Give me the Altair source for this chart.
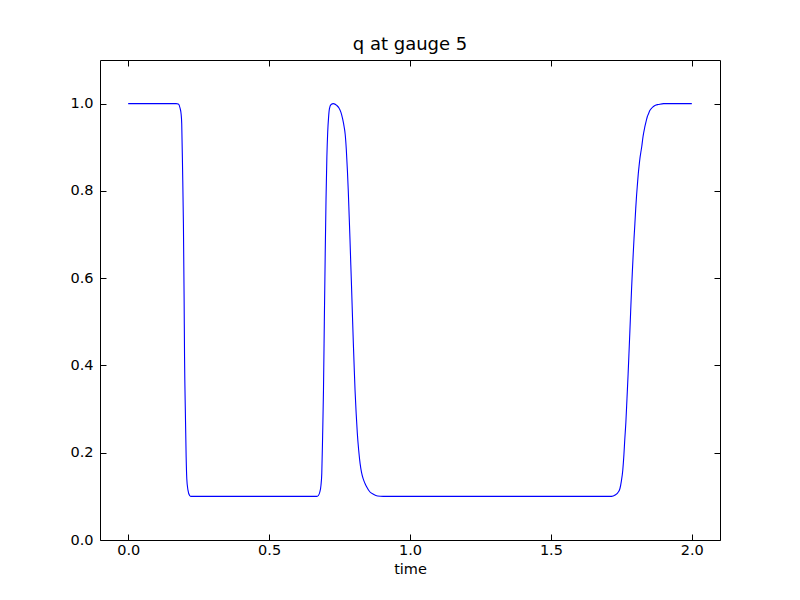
import altair as alt
import pandas as pd

time_vals = [0.0, 0.17, 0.178, 0.184, 0.188, 0.19, 0.193, 0.196, 0.1985, 0.2, 0.203, 0.2057,
             0.208, 0.212, 0.218, 0.222, 0.67, 0.675, 0.68, 0.684, 0.687, 0.690, 0.693, 0.696,
             0.699, 0.702, 0.705, 0.708, 0.711, 0.714, 0.72, 0.728, 0.74, 0.748, 0.755, 0.761,
             0.766, 0.770, 0.774, 0.778, 0.781, 0.784, 0.787, 0.790, 0.793, 0.796, 0.799,
             0.802, 0.805, 0.809, 0.813, 0.818, 0.823, 0.828, 0.834, 0.840, 0.846, 0.858,
             0.870, 0.885, 0.905, 1.715, 1.728, 1.737, 1.745, 1.750, 1.755, 1.759, 1.762,
             1.766, 1.770, 1.774, 1.777, 1.780, 1.783, 1.786, 1.789, 1.792, 1.795, 1.798,
             1.801, 1.804, 1.807, 1.810, 1.813, 1.816, 1.819, 1.822, 1.827, 1.833, 1.838,
             1.842, 1.847, 1.851, 1.858, 1.865, 1.873, 1.881, 1.9, 2.0]
q_vals = [1.0, 1.0, 0.999, 0.99, 0.975, 0.954, 0.85, 0.725, 0.55, 0.42, 0.29, 0.19,
          0.14, 0.115, 0.102, 0.1, 0.1, 0.102, 0.11, 0.125, 0.153, 0.24, 0.343, 0.50,
          0.648, 0.78, 0.877, 0.935, 0.968, 0.988, 0.998, 1.0, 0.996, 0.99, 0.98, 0.965,
          0.948, 0.93, 0.895, 0.845, 0.80, 0.745, 0.69, 0.63, 0.572, 0.51, 0.45,
          0.395, 0.343, 0.29, 0.245, 0.205, 0.175, 0.155, 0.14, 0.13, 0.122, 0.11,
          0.105, 0.101, 0.1, 0.1, 0.103, 0.108, 0.118, 0.135, 0.16, 0.195, 0.229,
          0.27, 0.325, 0.381, 0.428, 0.475, 0.524, 0.572, 0.615, 0.655, 0.692, 0.725,
          0.76, 0.79, 0.815, 0.839, 0.858, 0.875, 0.888, 0.90, 0.925, 0.946, 0.96,
          0.97, 0.978, 0.984, 0.99, 0.994, 0.997, 0.998, 1.0, 1.0]
x_ticks = [0.0, 0.5, 1.0, 1.5, 2.0]
y_ticks = [0.0, 0.2, 0.4, 0.6, 0.8, 1.0]

df = pd.DataFrame({"time": time_vals, "q": q_vals})

FONT = "DejaVu Sans"
TICK = 6

xscale = alt.Scale(domain=[-0.1, 2.1], nice=False, zero=False)
yscale = alt.Scale(domain=[0.0, 1.1], nice=False, zero=False)

main = alt.Chart(df).mark_line(color="#0000ff", strokeWidth=1.1, interpolate="monotone").encode(
    x=alt.X("time:Q", scale=xscale,
            axis=alt.Axis(orient="bottom", values=x_ticks, format=".1f", title="time",
                          tickSize=TICK, offset=-TICK, domain=False, grid=False,
                          labelPadding=3, titlePadding=6)),
    y=alt.Y("q:Q", scale=yscale,
            axis=alt.Axis(orient="left", values=y_ticks, format=".1f", title=None,
                          tickSize=TICK, offset=-TICK, domain=False, grid=False,
                          labelPadding=7)),
)

frame = alt.Chart(df).mark_line(opacity=0).encode(
    x=alt.X("time:Q", scale=xscale,
            axis=alt.Axis(orient="top", values=x_ticks, labels=False, title=None,
                          tickSize=TICK, offset=-TICK, domain=False, grid=False)),
    y=alt.Y("q:Q", scale=yscale,
            axis=alt.Axis(orient="right", values=y_ticks, labels=False, title=None,
                          tickSize=TICK, offset=-TICK, domain=False, grid=False)),
)

chart = alt.layer(main, frame).resolve_axis(x="independent", y="independent").properties(
    width=620, height=480,
    padding={"left": 92, "top": 52, "right": 72, "bottom": 48},
    autosize=alt.AutoSizeParams(type="none"),
    title=alt.TitleParams("q at gauge 5", font=FONT, fontSize=18, fontWeight="normal",
                          color="black", anchor="middle", offset=6),
).configure_view(
    stroke="black", strokeWidth=1
).configure_axis(
    labelFont=FONT, labelFontSize=14.5, labelColor="black",
    titleFont=FONT, titleFontSize=14.5, titleColor="black", titleFontWeight="normal",
    tickColor="black", tickWidth=1
)

chart.save("out.html", embed_options={"renderer": "svg", "actions": False})
